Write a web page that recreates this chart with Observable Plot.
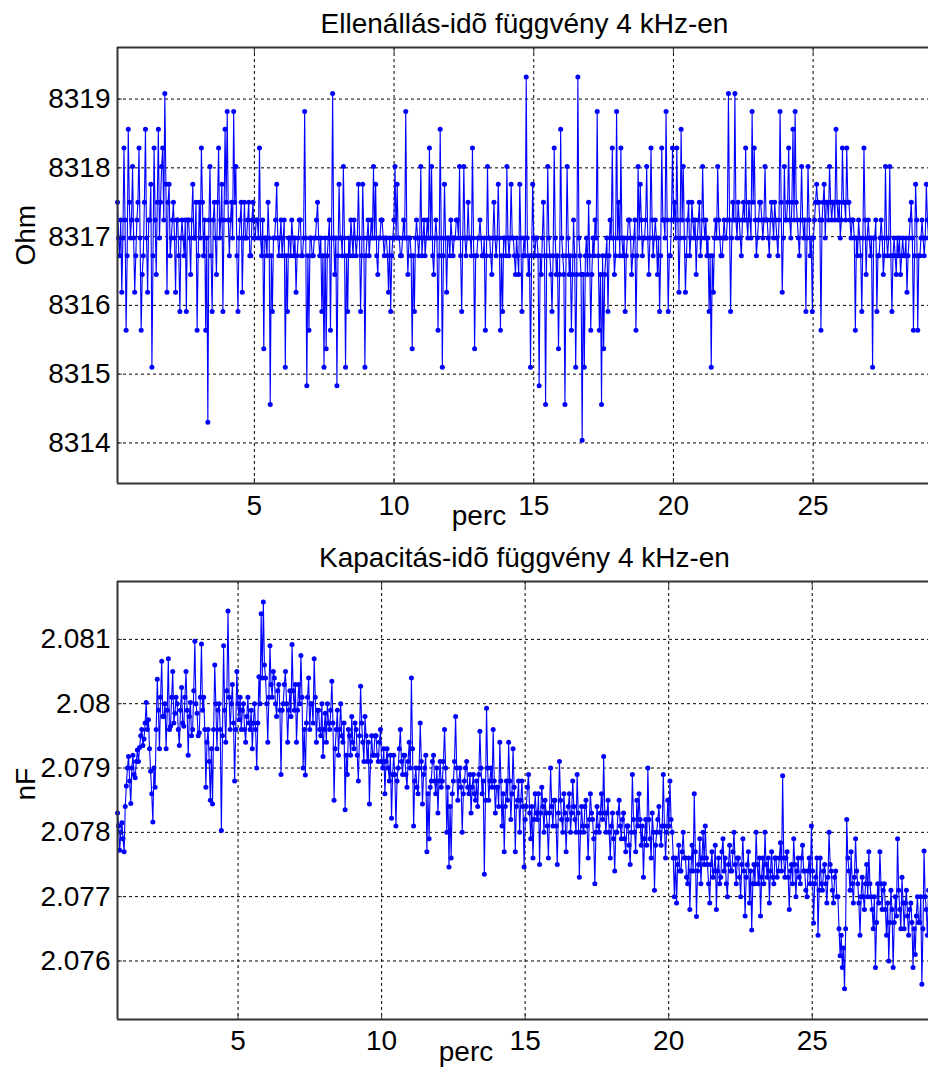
<!DOCTYPE html>
<html><head><meta charset="utf-8">
<script src="https://cdn.jsdelivr.net/npm/d3@7"></script>
<script src="https://cdn.jsdelivr.net/npm/@observablehq/plot@0.6"></script>
<style>
body{margin:0;background:#fff;}
#wrap{position:relative;width:928px;height:1068px;overflow:hidden;background:#fff;}
#wrap svg{position:absolute;left:0;}
</style></head><body><div id="wrap"></div>
<script>
// ---- Resistance (Ohm) over time, 4 kHz ----
const ohmTitle = "Ellenállás-idõ függvény 4 kHz-en";
const ohmStart = 0.1, ohmEnd = 29.13; // minutes, evenly spaced samples
const ohmValues = [
8317.5, 8316.98, 8316.72, 8317.24, 8316.19, 8316.98, 8318.29, 8317.24, 8315.64, 8316.72, 8318.56, 8317.5, 8316.98, 8317.24, 8318.02, 8316.98, 8316.19, 8316.72, 8317.24, 8317.5, 8318.29, 8316.98, 8315.64, 8316.45, 8316.72, 8317.5,
8318.56, 8316.98, 8316.19, 8317.24, 8317.24, 8317.76, 8315.1, 8316.72, 8318.29, 8317.24, 8316.45, 8317.5, 8318.56, 8316.98, 8317.5, 8318.02, 8318.29, 8317.24, 8319.08, 8317.76, 8316.19, 8317.5, 8317.76, 8316.72, 8316.98, 8317.24,
8317.5, 8316.98, 8316.19, 8317.24, 8317.24, 8316.72, 8315.91, 8316.98, 8317.24, 8316.98, 8316.72, 8317.24, 8315.91, 8317.24, 8317.24, 8316.98, 8316.45, 8317.24, 8317.76, 8316.98, 8316.98, 8317.5, 8315.64, 8316.72, 8317.5, 8316.98,
8318.29, 8317.5, 8316.72, 8317.24, 8315.64, 8316.98, 8314.3, 8317.24, 8318.02, 8316.72, 8315.91, 8317.24, 8317.5, 8316.98, 8316.45, 8317.5, 8318.29, 8316.98, 8317.24, 8317.76, 8315.91, 8317.24, 8318.56, 8317.5, 8318.82, 8317.24,
8316.72, 8317.24, 8317.5, 8316.98, 8318.82, 8317.5, 8318.02, 8316.72, 8315.91, 8316.98, 8317.24, 8317.5, 8316.19, 8316.98, 8317.5, 8316.98, 8316.98, 8317.24, 8317.5, 8316.72, 8316.72, 8317.24, 8317.5, 8316.98, 8316.98, 8317.24,
8317.24, 8316.98, 8318.29, 8316.98, 8316.72, 8317.24, 8315.37, 8316.98, 8316.98, 8316.72, 8317.5, 8316.98, 8314.56, 8316.72, 8315.91, 8316.98, 8316.98, 8317.24, 8317.76, 8316.98, 8316.72, 8316.98, 8317.24, 8316.72, 8316.98, 8317.24,
8315.1, 8316.72, 8315.91, 8316.98, 8316.98, 8316.72, 8317.24, 8316.98, 8316.72, 8316.98, 8316.19, 8316.72, 8316.98, 8317.24, 8317.24, 8316.72, 8316.72, 8316.98, 8318.82, 8316.98, 8314.83, 8316.72, 8315.64, 8316.98, 8316.98, 8316.72,
8316.72, 8316.98, 8316.98, 8317.24, 8317.5, 8316.98, 8316.72, 8316.98, 8315.91, 8316.72, 8315.1, 8316.98, 8315.37, 8316.72, 8316.98, 8317.24, 8315.64, 8316.98, 8319.08, 8316.98, 8316.45, 8316.98, 8314.83, 8316.72, 8317.76, 8316.98,
8316.98, 8316.72, 8318.02, 8316.98, 8315.1, 8316.72, 8315.91, 8316.98, 8316.72, 8317.24, 8316.98, 8316.72, 8317.24, 8316.98, 8316.72, 8316.98, 8317.76, 8316.98, 8315.91, 8316.72, 8317.76, 8316.98, 8315.1, 8316.72, 8316.98, 8317.24,
8316.72, 8316.98, 8317.24, 8316.98, 8318.02, 8316.98, 8317.76, 8316.72, 8316.45, 8316.98, 8316.98, 8317.24, 8317.24, 8316.98, 8316.72, 8316.98, 8316.98, 8316.72, 8316.19, 8316.98, 8315.91, 8316.72, 8316.98, 8317.24, 8318.02, 8316.98,
8317.76, 8316.98, 8316.98, 8316.72, 8316.72, 8316.98, 8317.24, 8316.98, 8318.82, 8316.98, 8316.45, 8316.98, 8316.98, 8316.72, 8315.37, 8316.72, 8315.91, 8316.98, 8317.24, 8316.98, 8316.72, 8316.98, 8318.02, 8316.72, 8316.98, 8317.24,
8316.72, 8316.98, 8317.24, 8316.98, 8318.29, 8316.98, 8318.02, 8316.72, 8316.45, 8316.98, 8317.24, 8316.98, 8315.64, 8316.72, 8318.56, 8316.98, 8315.1, 8316.72, 8317.76, 8316.98, 8316.19, 8316.98, 8316.98, 8316.72, 8317.24, 8316.98,
8316.72, 8316.98, 8316.98, 8317.24, 8317.24, 8316.98, 8318.02, 8316.72, 8315.91, 8316.98, 8318.02, 8316.98, 8316.72, 8316.98, 8317.5, 8316.98, 8316.98, 8316.72, 8318.29, 8316.98, 8315.37, 8316.72, 8316.72, 8316.98, 8316.98, 8317.24,
8316.98, 8316.72, 8316.72, 8316.98, 8315.64, 8316.72, 8318.02, 8316.98, 8316.98, 8316.72, 8316.45, 8316.98, 8317.5, 8316.98, 8316.72, 8316.98, 8317.76, 8316.98, 8315.64, 8316.72, 8315.91, 8316.98, 8316.98, 8316.72, 8318.02, 8316.98,
8316.72, 8316.98, 8317.76, 8316.98, 8316.98, 8316.72, 8316.45, 8316.98, 8316.72, 8316.45, 8317.76, 8316.98, 8315.91, 8316.72, 8316.98, 8316.72, 8319.32, 8316.98, 8316.45, 8316.72, 8315.1, 8316.72, 8317.76, 8316.98, 8316.72, 8316.98,
8316.98, 8316.72, 8314.83, 8316.72, 8316.45, 8316.98, 8317.5, 8316.72, 8314.56, 8316.72, 8318.02, 8316.98, 8316.72, 8316.45, 8315.91, 8316.72, 8318.29, 8316.98, 8316.45, 8316.72, 8315.37, 8316.45, 8318.56, 8316.98, 8316.72, 8316.45,
8314.56, 8316.72, 8318.02, 8316.98, 8316.45, 8316.72, 8315.64, 8316.45, 8317.24, 8316.72, 8315.1, 8316.45, 8319.32, 8316.98, 8316.72, 8316.45, 8314.04, 8316.45, 8315.1, 8316.72, 8316.98, 8316.45, 8317.5, 8316.72, 8315.64, 8316.45,
8316.98, 8316.72, 8317.24, 8316.98, 8318.82, 8316.72, 8315.64, 8316.45, 8314.56, 8316.72, 8315.37, 8316.45, 8316.72, 8316.98, 8315.91, 8316.72, 8317.24, 8316.98, 8318.29, 8316.98, 8316.45, 8316.72, 8318.82, 8316.98, 8317.5, 8316.72,
8318.29, 8316.98, 8316.72, 8316.98, 8315.91, 8316.72, 8316.98, 8317.24, 8317.24, 8316.98, 8316.45, 8316.72, 8316.98, 8317.24, 8315.64, 8316.72, 8318.02, 8316.98, 8317.76, 8317.24, 8316.72, 8316.98, 8316.98, 8317.24, 8318.02, 8316.98,
8316.45, 8316.98, 8318.29, 8317.24, 8316.72, 8316.98, 8317.24, 8316.98, 8316.45, 8316.98, 8315.91, 8316.72, 8318.29, 8317.24, 8317.24, 8316.98, 8318.82, 8317.24, 8315.91, 8316.72, 8316.72, 8317.24, 8318.29, 8317.24, 8317.5, 8316.98,
8318.29, 8317.24, 8316.19, 8316.98, 8318.56, 8317.24, 8318.02, 8316.98, 8316.19, 8316.72, 8317.24, 8317.5, 8316.72, 8316.98, 8317.5, 8317.24, 8316.98, 8317.24, 8316.45, 8316.98, 8317.24, 8317.5, 8316.72, 8316.98, 8318.02, 8317.24,
8316.98, 8317.24, 8316.72, 8316.98, 8315.91, 8316.72, 8315.1, 8316.72, 8316.19, 8316.98, 8317.24, 8316.98, 8318.02, 8317.24, 8316.98, 8316.72, 8316.72, 8316.98, 8317.24, 8316.98, 8316.98, 8317.24, 8319.08, 8317.24, 8315.91, 8316.98,
8317.5, 8317.24, 8319.08, 8317.24, 8316.98, 8317.5, 8317.24, 8316.98, 8316.72, 8317.24, 8317.5, 8317.24, 8318.29, 8317.24, 8316.98, 8317.5, 8317.24, 8316.98, 8318.82, 8317.5, 8318.29, 8317.24, 8316.72, 8316.98, 8317.24, 8317.5,
8317.5, 8317.24, 8316.98, 8317.24, 8318.02, 8317.24, 8317.24, 8316.98, 8316.72, 8317.24, 8317.5, 8317.24, 8316.98, 8317.5, 8317.24, 8316.98, 8316.72, 8317.24, 8318.82, 8317.5, 8316.19, 8316.98, 8318.02, 8317.24, 8317.24, 8317.5,
8318.29, 8317.24, 8316.98, 8317.5, 8318.56, 8317.24, 8318.82, 8317.5, 8317.24, 8316.98, 8316.72, 8317.24, 8318.02, 8317.24, 8316.98, 8317.24, 8315.91, 8316.98, 8318.02, 8317.24, 8316.72, 8316.98, 8315.91, 8316.98, 8317.24, 8317.5,
8317.76, 8317.5, 8317.5, 8317.24, 8315.64, 8317.24, 8317.5, 8317.76, 8316.98, 8317.5, 8317.5, 8317.24, 8318.02, 8317.5, 8317.24, 8317.5, 8317.5, 8317.24, 8318.56, 8317.5, 8317.24, 8317.5, 8316.98, 8317.24, 8318.29, 8317.5,
8317.5, 8317.24, 8318.29, 8317.5, 8317.5, 8317.24, 8316.98, 8317.24, 8317.24, 8316.98, 8315.64, 8316.98, 8316.72, 8317.24, 8316.98, 8316.72, 8315.91, 8316.98, 8318.29, 8317.24, 8316.45, 8316.98, 8317.24, 8316.98, 8316.72, 8316.98,
8315.1, 8316.98, 8316.98, 8317.24, 8315.91, 8316.72, 8316.72, 8316.98, 8317.24, 8316.98, 8316.45, 8316.72, 8318.02, 8316.98, 8316.72, 8316.98, 8318.02, 8316.72, 8315.91, 8316.72, 8316.98, 8316.72, 8316.45, 8316.98, 8316.72, 8316.98,
8316.45, 8316.72, 8316.98, 8316.72, 8316.72, 8316.98, 8316.19, 8316.72, 8316.98, 8317.24, 8317.5, 8316.98, 8315.64, 8316.72, 8317.76, 8317.24, 8315.64, 8316.72, 8316.72, 8316.98, 8317.24, 8316.98, 8316.72, 8316.98, 8317.76, 8317.24, 8316.98
];
const ohmTicks = [8314, 8315, 8316, 8317, 8318, 8319];
const ohmTickLabels = ["8314", "8315", "8316", "8317", "8318", "8319"];
const ohmYDomain = [8313.41, 8319.75];

// ---- Capacitance (nF) over time, 4 kHz ----
const nfTitle = "Kapacitás-idõ függvény 4 kHz-en";
const nfStart = 0.8, nfEnd = 29.05;
const nfValues = [
2.07830, 2.07810, 2.07772, 2.07800, 2.07815, 2.07790, 2.07770, 2.07840, 2.07872, 2.07900, 2.07918, 2.07880, 2.07845, 2.07900, 2.07920, 2.07890, 2.07885, 2.07910, 2.07928, 2.07910, 2.07932, 2.07950, 2.07960, 2.07935, 2.07945, 2.07970,
2.08002, 2.07960, 2.07975, 2.07930, 2.07895, 2.07860, 2.07816, 2.07900, 2.07870, 2.07960, 2.08038, 2.07990, 2.07930, 2.08010, 2.08066, 2.07980, 2.07980, 2.08000, 2.07930, 2.07990, 2.08070, 2.07960, 2.07965, 2.08010, 2.08050, 2.07970,
2.07985, 2.08010, 2.08000, 2.07960, 2.07935, 2.07990, 2.08025, 2.07970, 2.07965, 2.08010, 2.08050, 2.07990, 2.07920, 2.07980, 2.08002, 2.07950, 2.07960, 2.08020, 2.08097, 2.08000, 2.07985, 2.07950, 2.07955, 2.08010, 2.08093, 2.07990,
2.08010, 2.07960, 2.07870, 2.07940, 2.07960, 2.07910, 2.07850, 2.07930, 2.07844, 2.07960, 2.08060, 2.08000, 2.07930, 2.07990, 2.08000, 2.07960, 2.07803, 2.07950, 2.08090, 2.07990, 2.07940, 2.08020, 2.08144, 2.08010, 2.07960, 2.08000,
2.08030, 2.07970, 2.07880, 2.07960, 2.08050, 2.08000, 2.07975, 2.08010, 2.07960, 2.07990, 2.08000, 2.07960, 2.07940, 2.07980, 2.08010, 2.07970, 2.07960, 2.07990, 2.07930, 2.07970, 2.08000, 2.07960, 2.07900, 2.07970, 2.08042, 2.08000,
2.08140, 2.08040, 2.08158, 2.08060, 2.08040, 2.08000, 2.07940, 2.08010, 2.08090, 2.08030, 2.08010, 2.08050, 2.08040, 2.08000, 2.07980, 2.08020, 2.08030, 2.07990, 2.07890, 2.07990, 2.08000, 2.08030, 2.08050, 2.08000, 2.07940, 2.07990,
2.08020, 2.07980, 2.08092, 2.08020, 2.07990, 2.08030, 2.07940, 2.07990, 2.08030, 2.08000, 2.08075, 2.08010, 2.07900, 2.07960, 2.07889, 2.07970, 2.08010, 2.08040, 2.07960, 2.08000, 2.08000, 2.07970, 2.08070, 2.08010, 2.07940, 2.07990,
2.07990, 2.07960, 2.07950, 2.08000, 2.07918, 2.07960, 2.07985, 2.07940, 2.08000, 2.07970, 2.07960, 2.07990, 2.08035, 2.07970, 2.07850, 2.07930, 2.07960, 2.07990, 2.07920, 2.07960, 2.08000, 2.07950, 2.07940, 2.07970, 2.07835, 2.07920,
2.07890, 2.07960, 2.07950, 2.07920, 2.07980, 2.07940, 2.07930, 2.07970, 2.07960, 2.07920, 2.07880, 2.07950, 2.08027, 2.07970, 2.07940, 2.07910, 2.07980, 2.07950, 2.07910, 2.07940, 2.07844, 2.07910, 2.07950, 2.07920, 2.07920, 2.07950,
2.07950, 2.07920, 2.07910, 2.07940, 2.07960, 2.07910, 2.07900, 2.07930, 2.07860, 2.07910, 2.07930, 2.07900, 2.07880, 2.07920, 2.07822, 2.07890, 2.07920, 2.07890, 2.07810, 2.07880, 2.07900, 2.07930, 2.07960, 2.07910, 2.07890, 2.07920,
2.07920, 2.07890, 2.07870, 2.07910, 2.07940, 2.07900, 2.08040, 2.07930, 2.07810, 2.07880, 2.07900, 2.07870, 2.07860, 2.07900, 2.07970, 2.07910, 2.07844, 2.07890, 2.07900, 2.07920, 2.07770, 2.07860, 2.07790, 2.07870, 2.07880, 2.07910,
2.07920, 2.07880, 2.07860, 2.07900, 2.07830, 2.07880, 2.07910, 2.07870, 2.07880, 2.07910, 2.07960, 2.07900, 2.07800, 2.07870, 2.07746, 2.07840, 2.07760, 2.07860, 2.07880, 2.07910, 2.07980, 2.07900, 2.07850, 2.07880, 2.07900, 2.07870,
2.07800, 2.07860, 2.07880, 2.07900, 2.07910, 2.07870, 2.07860, 2.07890, 2.07830, 2.07870, 2.07890, 2.07860, 2.07850, 2.07880, 2.07840, 2.07890, 2.07957, 2.07900, 2.07860, 2.07880, 2.07735, 2.07850, 2.07993, 2.07900, 2.07850, 2.07880,
2.07900, 2.07870, 2.07960, 2.07880, 2.07830, 2.07870, 2.07870, 2.07840, 2.07940, 2.07880, 2.07810, 2.07860, 2.07770, 2.07840, 2.07880, 2.07850, 2.07940, 2.07880, 2.07820, 2.07860, 2.07930, 2.07870, 2.07770, 2.07840, 2.07850, 2.07880,
2.07800, 2.07850, 2.07880, 2.07840, 2.07746, 2.07820, 2.07840, 2.07870, 2.07890, 2.07830, 2.07790, 2.07840, 2.07760, 2.07820, 2.07860, 2.07830, 2.07820, 2.07860, 2.07750, 2.07830, 2.07870, 2.07840, 2.07800, 2.07850, 2.07830, 2.07810,
2.07760, 2.07830, 2.07900, 2.07840, 2.07810, 2.07850, 2.07850, 2.07810, 2.07750, 2.07830, 2.07910, 2.07850, 2.07820, 2.07800, 2.07860, 2.07830, 2.07770, 2.07820, 2.07840, 2.07860, 2.07800, 2.07830, 2.07880, 2.07840, 2.07820, 2.07800,
2.07890, 2.07830, 2.07730, 2.07800, 2.07840, 2.07810, 2.07800, 2.07840, 2.07850, 2.07810, 2.07760, 2.07820, 2.07860, 2.07830, 2.07820, 2.07790, 2.07720, 2.07800, 2.07840, 2.07810, 2.07800, 2.07830, 2.07860, 2.07820, 2.07918, 2.07830,
2.07800, 2.07830, 2.07850, 2.07800, 2.07760, 2.07810, 2.07830, 2.07790, 2.07740, 2.07800, 2.07800, 2.07830, 2.07850, 2.07810, 2.07790, 2.07820, 2.07830, 2.07790, 2.07770, 2.07810, 2.07810, 2.07780, 2.07750, 2.07800, 2.07890, 2.07820,
2.07800, 2.07770, 2.07850, 2.07810, 2.07860, 2.07820, 2.07780, 2.07810, 2.07730, 2.07790, 2.07820, 2.07780, 2.07900, 2.07820, 2.07790, 2.07760, 2.07830, 2.07800, 2.07710, 2.07780, 2.07800, 2.07820, 2.07840, 2.07800, 2.07780, 2.07810,
2.07890, 2.07810, 2.07760, 2.07800, 2.07850, 2.07810, 2.07880, 2.07820, 2.07800, 2.07760, 2.07700, 2.07760, 2.07690, 2.07750, 2.07780, 2.07740, 2.07740, 2.07770, 2.07800, 2.07760, 2.07760, 2.07730, 2.07720, 2.07760, 2.07680, 2.07740,
2.07780, 2.07740, 2.07860, 2.07770, 2.07669, 2.07740, 2.07750, 2.07790, 2.07720, 2.07760, 2.07800, 2.07750, 2.07810, 2.07760, 2.07750, 2.07720, 2.07690, 2.07750, 2.07770, 2.07730, 2.07740, 2.07780, 2.07680, 2.07740, 2.07760, 2.07720,
2.07730, 2.07770, 2.07790, 2.07740, 2.07760, 2.07720, 2.07700, 2.07750, 2.07780, 2.07740, 2.07740, 2.07770, 2.07800, 2.07750, 2.07720, 2.07760, 2.07760, 2.07730, 2.07700, 2.07750, 2.07790, 2.07740, 2.07670, 2.07730, 2.07750, 2.07770,
2.07690, 2.07740, 2.07648, 2.07720, 2.07750, 2.07720, 2.07800, 2.07750, 2.07720, 2.07760, 2.07670, 2.07730, 2.07760, 2.07720, 2.07800, 2.07750, 2.07730, 2.07760, 2.07690, 2.07740, 2.07770, 2.07730, 2.07720, 2.07760, 2.07760, 2.07730,
2.07740, 2.07760, 2.07784, 2.07740, 2.07888, 2.07760, 2.07730, 2.07760, 2.07770, 2.07730, 2.07680, 2.07740, 2.07750, 2.07720, 2.07790, 2.07750, 2.07700, 2.07740, 2.07760, 2.07730, 2.07720, 2.07760, 2.07780, 2.07740, 2.07740, 2.07710,
2.07700, 2.07740, 2.07760, 2.07720, 2.07810, 2.07740, 2.07659, 2.07720, 2.07730, 2.07760, 2.07640, 2.07710, 2.07760, 2.07720, 2.07710, 2.07740, 2.07750, 2.07720, 2.07690, 2.07730, 2.07800, 2.07750, 2.07740, 2.07710, 2.07690, 2.07730,
2.07740, 2.07700, 2.07700, 2.07650, 2.07608, 2.07640, 2.07590, 2.07620, 2.07557, 2.07650, 2.07820, 2.07760, 2.07740, 2.07710, 2.07770, 2.07720, 2.07690, 2.07730, 2.07790, 2.07740, 2.07720, 2.07690, 2.07640, 2.07700, 2.07730, 2.07700,
2.07680, 2.07720, 2.07750, 2.07700, 2.07770, 2.07720, 2.07700, 2.07680, 2.07650, 2.07700, 2.07590, 2.07660, 2.07720, 2.07690, 2.07770, 2.07720, 2.07680, 2.07710, 2.07720, 2.07680, 2.07640, 2.07690, 2.07600, 2.07660, 2.07710, 2.07680,
2.07590, 2.07660, 2.07700, 2.07670, 2.07790, 2.07710, 2.07680, 2.07650, 2.07730, 2.07690, 2.07650, 2.07690, 2.07710, 2.07670, 2.07640, 2.07680, 2.07690, 2.07660, 2.07590, 2.07650, 2.07610, 2.07670, 2.07700, 2.07660, 2.07660, 2.07700,
2.07564, 2.07650, 2.07771, 2.07700, 2.07680, 2.07640, 2.07710
];
const nfTicks = [2.076, 2.077, 2.078, 2.079, 2.080, 2.081];
const nfTickLabels = ["2.076", "2.077", "2.078", "2.079", "2.08", "2.081"];
const nfYDomain = [2.07509, 2.0819];

const xTicks = [5, 10, 15, 20, 25];
const xLabel = "perc";
const ohmLabel = "Ohm";
const nfLabel = "nF";

// ---- drawing ----
const FONT = "'Liberation Sans', Arial, Helvetica, sans-serif";
const BLUE = "#0000ff";
const AXIS = "#333333";

function series(values, t0, t1) {
  const step = (t1 - t0) / (values.length - 1);
  return values.map((v, i) => ({t: t0 + i * step, v}));
}

function panel({data, xDomain, yDomain, yTicks, yTickLabels, title, ylabel, height, marginTop, marginBottom, titleDy, xLabelDx, xLabelDy, xTickPad}) {
  const fmt = new Map(yTicks.map((d, i) => [d, yTickLabels[i]]));
  return Plot.plot({
    width: 928, height,
    marginLeft: 117, marginRight: 0, marginTop, marginBottom,
    style: {fontFamily: FONT, fontSize: "28px", color: "#000", background: "transparent", overflow: "visible"},
    x: {domain: xDomain},
    y: {domain: yDomain},
    marks: [
      Plot.gridX(xTicks, {stroke: "#000", strokeOpacity: 1, strokeWidth: 1, strokeDasharray: "3,3"}),
      Plot.gridY(yTicks, {stroke: "#000", strokeOpacity: 1, strokeWidth: 1, strokeDasharray: "3,3"}),
      Plot.line(data, {x: "t", y: "v", stroke: BLUE, strokeWidth: 1.1}),
      Plot.dot(data, {x: "t", y: "v", r: 2.5, fill: BLUE, stroke: "none"}),
      Plot.ruleX([xDomain[0]], {stroke: AXIS, strokeWidth: 2}),
      Plot.ruleY([yDomain[0], yDomain[1]], {stroke: AXIS, strokeWidth: 2}),
      Plot.axisX({ticks: xTicks, tickSize: 0, tickPadding: xTickPad, fontSize: 28, label: null, tickFormat: d => String(d)}),
      Plot.axisX({ticks: xTicks, anchor: "bottom", tickSize: -5, stroke: AXIS, tickFormat: () => "", label: null}),
      Plot.axisX({ticks: xTicks, anchor: "top", tickSize: -5, stroke: AXIS, tickFormat: () => "", label: null}),
      Plot.axisY({ticks: yTicks, tickSize: 0, tickPadding: 7, fontSize: 28, label: null, tickFormat: d => fmt.get(d)}),
      Plot.axisY({ticks: yTicks, anchor: "left", tickSize: -5, stroke: AXIS, tickFormat: () => "", label: null}),
      Plot.text([title], {text: d => d, frameAnchor: "top", dx: 1.5, dy: titleDy, lineAnchor: "middle", fontSize: 28, fill: "#000"}),
      Plot.text([ylabel], {text: d => d, frameAnchor: "left", dx: -91, rotate: -90, lineAnchor: "middle", fontSize: 28, fill: "#000"}),
      Plot.text([xLabel], {text: d => d, frameAnchor: "bottom", dx: xLabelDx, dy: xLabelDy, lineAnchor: "middle", fontSize: 28, fill: "#000"})
    ]
  });
}

const wrap = document.getElementById("wrap");

const top1 = panel({
  data: series(ohmValues, ohmStart, ohmEnd),
  xDomain: [ohmStart, ohmEnd], yDomain: ohmYDomain,
  yTicks: ohmTicks, yTickLabels: ohmTickLabels,
  title: ohmTitle, ylabel: ohmLabel,
  height: 530, marginTop: 47, marginBottom: 47,
  titleDy: -23, xLabelDx: -44, xLabelDy: 33, xTickPad: 12
});
top1.style.top = "0px";
wrap.appendChild(top1);

const bot = panel({
  data: series(nfValues, nfStart, nfEnd),
  xDomain: [nfStart, nfEnd], yDomain: nfYDomain,
  yTicks: nfTicks, yTickLabels: nfTickLabels,
  title: nfTitle, ylabel: nfLabel,
  height: 538, marginTop: 51, marginBottom: 49,
  titleDy: -23, xLabelDx: -57, xLabelDy: 33, xTickPad: 11
});
bot.style.top = "530px";
wrap.appendChild(bot);
</script></body></html>
